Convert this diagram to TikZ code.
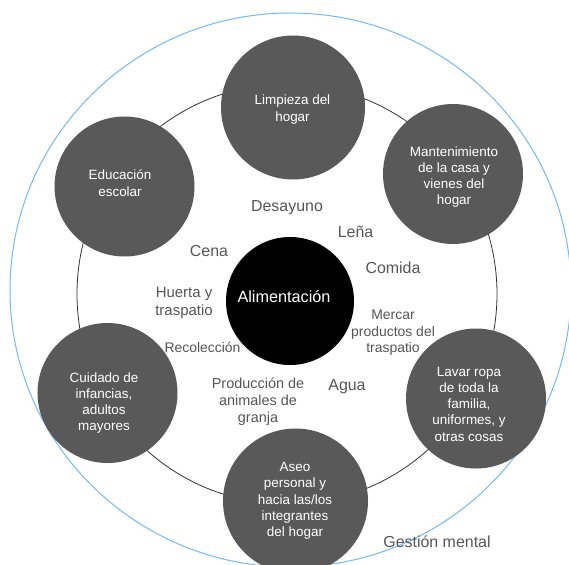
\documentclass[tikz,border=0pt]{standalone}
\usepackage{fontspec}
\setmainfont{Liberation Sans}
\definecolor{discgray}{HTML}{595959}
\definecolor{inkgray}{HTML}{555555}
\definecolor{skyline}{HTML}{72B9F7}

\begin{document}
\begin{tikzpicture}[
  x=1bp,y=-1bp,
  task/.style={circle,fill=discgray,inner sep=0pt,minimum size=#1},
  task/.default=140bp,
  tasktxt/.style={align=center,text=white,inner sep=0pt,font=\fontsize{13.5}{16.3}\selectfont},
  big/.style={text=inkgray,inner sep=0pt,font=\fontsize{16}{19}\selectfont},
  small/.style={align=center,text=inkgray,inner sep=0pt,font=\fontsize{14}{16.5}\selectfont}
]
\useasboundingbox (0,0) rectangle (569,565);
\coordinate (mid) at (287,294);
\draw[skyline,line width=1bp] (290.5,290) ellipse [x radius=280.5bp, y radius=277bp];
\draw[black!80,line width=0.8bp] (mid) circle [radius=210bp];

\node[task=144bp] (clean) at (293,107.5) {};
\node[tasktxt] (clean-t) at (292.5,109.5) {Limpieza del\\hogar};
\node[task] (repair) at (453,174) {};
\node[tasktxt] (repair-t) at (454,177) {Mantenimiento\\de la casa y\\vienes del\\hogar};
\node[task] (school) at (124.5,186.5) {};
\node[tasktxt] (school-t) at (120,183) {Educación\\escolar};
\node[task] (care) at (107.5,393) {};
\node[tasktxt] (care-t) at (104,403) {Cuidado de\\infancias,\\adultos\\mayores};
\node[task] (laundry) at (476,398.5) {};
\node[tasktxt] (laundry-t) at (469,404) {Lavar ropa\\de toda la\\familia,\\uniformes, y\\otras cosas};
\node[task=145bp] (hygiene) at (295.5,501) {};
\node[tasktxt] (hygiene-t) at (295,501) {Aseo\\personal y\\hacia las/los\\integrantes\\del hogar};

\node[circle,fill=black,inner sep=0pt,minimum size=128bp] (food) at (290,301) {};
\node[text=white,inner sep=0pt,font=\fontsize{16.3}{19}\selectfont] (food-t) at (284,297) {Alimentación};

\node[big] (breakfast) at (287,208) {Desayuno};
\node[big] (firewood) at (355.5,232) {Leña};
\node[big] (dinner) at (209,251) {Cena};
\node[big] (lunch) at (393,268) {Comida};
\node[big] (water) at (347,387) {Agua};
\node[big] (mental) at (437,542) {Gestión mental};
\node[small,font=\fontsize{15}{18}\selectfont] (garden) at (184,303) {Huerta y\\traspatio};
\node[small] (market) at (393,333) {Mercar\\productos del\\traspatio};
\node[small] (gather) at (202.5,347) {Recolección};
\node[small,font=\fontsize{14.5}{17}\selectfont] (livestock) at (258,402) {Producción de\\animales de\\granja};
\end{tikzpicture}
\end{document}
